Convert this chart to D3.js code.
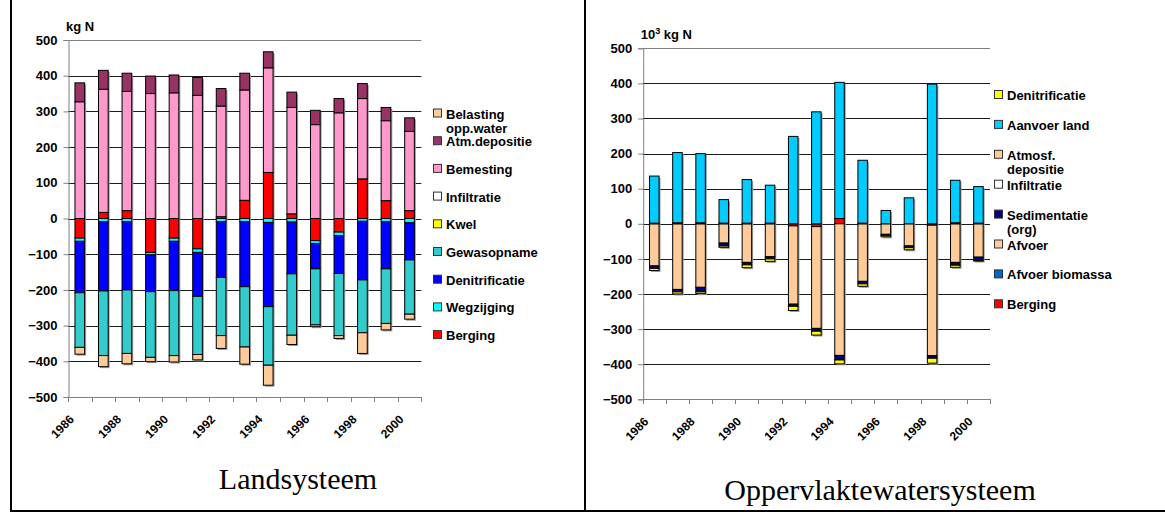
<!DOCTYPE html>
<html>
<head>
<meta charset="utf-8">
<script src="https://cdn.jsdelivr.net/npm/d3@7"></script>
<style>
  html, body { margin: 0; padding: 0; background: #fff; }
  svg { display: block; }
  text { font-family: "Liberation Sans", Arial, sans-serif; }
  text.caption { font-family: "Liberation Serif", "Times New Roman", serif; }
</style>
</head>
<body>
<svg id="fig" width="1165" height="512"></svg>
<script>
// ---- Data -------------------------------------------------------------
const years = ["1986","1987","1988","1989","1990","1991","1992","1993","1994","1995","1996","1997","1998","1999","2000"];
const yTicks = [500, 400, 300, 200, 100, 0, -100, -200, -300, -400, -500];
const yearTickLabels = ["1986","1988","1990","1992","1994","1996","1998","2000"];

// Landsysteem (kg N)
const bergingLand     = [-55, 17, 22, -95, -55, -85, 5, 51, 129, 13, -62, -38, 111, 50, 22];
const wegzijging      = [-9, -9, -9, -7, -9, -10, -9, -9, -11, -10, -8, -10, -8, -9, -12];
const denitLand       = [-144, -194, -191, -103, -138, -123, -156, -182, -236, -145, -71, -106, -164, -132, -104];
const gewasopname     = [-153, -181, -178, -184, -182, -163, -163, -169, -164, -172, -157, -174, -148, -153, -152];
const kwel            = [0, 0, 0, 0, 0, 0, 0, 0, 0, 0, 0, 0, 0, 0, 0];
const infiltratieLand = [0, 0, 0, 0, 0, 0, 0, 0, 0, 0, 0, 0, 0, 0, 0];
const bemesting       = [327, 345, 334, 350, 352, 345, 310, 309, 293, 298, 263, 296, 225, 224, 222];
const atmDepositie    = [53, 53, 51, 49, 50, 50, 49, 47, 45, 43, 40, 40, 42, 37, 38];
const belastingOpp    = [-19, -31, -29, -12, -18, -15, -36, -48, -56, -26, -5, -8, -58, -18, -14];

// Oppervlaktewatersysteem (10^3 kg N)
const bergingWater     = [0, 0, 0, 0, 0, 0, -6, -8, 15, 0, 0, 0, -4, 0, 0];
const afvoerBiomassa   = [0, 0, 0, 0, 0, 0, 0, 0, 0, 0, 0, 0, 0, 0, 0];
const afvoer           = [-120, -187, -181, -55, -110, -94, -223, -290, -375, -164, -30, -63, -372, -110, -95];
const sedimentatie     = [-7, -7, -13, -8, -7, -6, -6, -8, -13, -7, -3, -5, -7, -8, -10];
const infiltratieWater = [0, 0, 0, 0, 0, 0, 0, 0, 0, 0, 0, 0, 0, 0, 0];
const atmosfDepositie  = [2, 3, 3, 2, 2, 2, 0, 0, 0, 2, 0, 0, 0, 3, 2];
const aanvoerLand      = [134, 200, 197, 67, 124, 108, 249, 319, 388, 179, 38, 74, 398, 121, 104];
const denitWater       = [-6, -6, -5, -4, -8, -7, -12, -11, -11, -7, -4, -6, -14, -6, -1];

// Series in stacking order (first series sits next to zero)
const landSeries = [
  { key: "Berging",             values: bergingLand,     color: "#FF0000" },
  { key: "Wegzijging",          values: wegzijging,      color: "#00FFFF" },
  { key: "Denitrificatie",      values: denitLand,       color: "#0000FF" },
  { key: "Gewasopname",         values: gewasopname,     color: "#33CCCC" },
  { key: "Kwel",                values: kwel,            color: "#FFFF00" },
  { key: "Infiltratie",         values: infiltratieLand, color: "#FFFFFF" },
  { key: "Bemesting",           values: bemesting,       color: "#FF99CC" },
  { key: "Atm.depositie",       values: atmDepositie,    color: "#993366" },
  { key: "Belasting opp.water", values: belastingOpp,    color: "#FFCC99", label: ["Belasting", "opp.water"] }
];
const waterSeries = [
  { key: "Berging",             values: bergingWater,     color: "#FF0000" },
  { key: "Afvoer biomassa",     values: afvoerBiomassa,   color: "#0066CC" },
  { key: "Afvoer",              values: afvoer,           color: "#FFCC99" },
  { key: "Sedimentatie (org)",  values: sedimentatie,     color: "#000080", label: ["Sedimentatie", "(org)"] },
  { key: "Infiltratie",         values: infiltratieWater, color: "#FFFFFF" },
  { key: "Atmosf. depositie",   values: atmosfDepositie,  color: "#FFCC99", label: ["Atmosf.", "depositie"] },
  { key: "Aanvoer land",        values: aanvoerLand,      color: "#00CCFF" },
  { key: "Denitrificatie",      values: denitWater,       color: "#FFFF00" }
];

const svg = d3.select("#fig");

// ---- Frame lines -------------------------------------------------------
const frame = svg.append("g").attr("stroke", "#000").attr("shape-rendering", "crispEdges");
frame.append("line").attr("x1", 10.5).attr("x2", 10.5).attr("y1", 0).attr("y2", 511).attr("stroke-width", 2);
frame.append("line").attr("x1", 584.5).attr("x2", 584.5).attr("y1", 0).attr("y2", 511).attr("stroke-width", 2);
frame.append("line").attr("x1", 10).attr("x2", 1165).attr("y1", 510.5).attr("y2", 510.5).attr("stroke-width", 2);

// ---- Chart drawing -----------------------------------------------------
function drawChart(opts) {
  const { series, x0, x1, yTop, yBottom, unit, legendX, legendY0, legendStep, caption, captionX, captionY } = opts;
  const g = svg.append("g");

  const x = d3.scaleBand().domain(years).range([x0, x1]).padding(0);
  const y = d3.scaleLinear().domain([-500, 500]).range([yBottom, yTop]);

  const rows = years.map((yr, i) => {
    const r = { year: yr };
    series.forEach(s => { r[s.key] = s.values[i]; });
    return r;
  });
  const stacked = d3.stack()
    .keys(series.map(s => s.key))
    .offset(d3.stackOffsetDiverging)(rows);

  // gridlines
  g.append("g").selectAll("line").data(yTicks.filter(t => t > -500)).join("line")
    .attr("x1", x0).attr("x2", x1)
    .attr("y1", d => Math.round(y(d)) + 0.5).attr("y2", d => Math.round(y(d)) + 0.5)
    .attr("stroke", d => d === 500 ? "#808080" : "#1a1a1a")
    .attr("stroke-width", 1);

  // y axis
  const yAxis = d3.axisLeft(y).tickValues(yTicks).tickSize(5).tickPadding(6).tickFormat(d3.format("d"));
  const ya = g.append("g").attr("transform", `translate(${x0 + 0.5},0)`).call(yAxis);
  ya.attr("font-family", null);
  ya.select(".domain").attr("stroke", "#808080");
  ya.selectAll(".tick line").attr("stroke", "#808080");
  ya.selectAll(".tick text")
    .attr("font-size", 13).attr("font-weight", "bold").attr("fill", "#000");

  // x axis at the bottom with ticks between categories
  const xa = g.append("g");
  xa.append("line").attr("x1", x0).attr("x2", x1)
    .attr("y1", Math.round(yBottom) + 0.5).attr("y2", Math.round(yBottom) + 0.5)
    .attr("stroke", "#808080");
  const edges = years.map(d => x(d)).concat([x1]);
  xa.selectAll("line.tk").data(edges).join("line").attr("class", "tk")
    .attr("x1", d => Math.round(d) + 0.5).attr("x2", d => Math.round(d) + 0.5)
    .attr("y1", Math.round(yBottom)).attr("y2", Math.round(yBottom) + 5)
    .attr("stroke", "#808080");
  xa.selectAll("text").data(yearTickLabels).join("text")
    .attr("transform", d => `translate(${x(d) + x.bandwidth() / 2 - 5},${yBottom + 23}) rotate(-45)`)
    .attr("text-anchor", "end")
    .attr("font-size", 12).attr("font-weight", "bold").attr("fill", "#000")
    .text(d => d);

  // bars
  const bw = x.bandwidth() * 0.41;
  const bx = d => x(d.data.year) + (x.bandwidth() - bw) / 2;

  // soft shadow behind each column
  const extent = years.map((yr, i) => {
    let lo = 0, hi = 0;
    stacked.forEach(s => { lo = Math.min(lo, s[i][0]); hi = Math.max(hi, s[i][1]); });
    return { year: yr, lo, hi };
  });
  g.append("g").selectAll("rect").data(extent).join("rect")
    .attr("x", d => x(d.year) + (x.bandwidth() - bw) / 2 + 1.5)
    .attr("y", d => y(d.hi) + 1.5)
    .attr("width", bw)
    .attr("height", d => y(d.lo) - y(d.hi))
    .attr("fill", "#9a9a9a");

  g.append("g").selectAll("g").data(stacked).join("g")
    .attr("fill", (d, i) => series[i].color)
    .selectAll("rect")
    .data(d => d.filter(p => p[1] !== p[0]))
    .join("rect")
    .attr("x", bx)
    .attr("y", d => y(d[1]))
    .attr("width", bw)
    .attr("height", d => y(d[0]) - y(d[1]))
    .attr("stroke", "#000")
    .attr("stroke-width", 1);

  // unit label
  const ut = g.append("text").attr("x", x0 - 2).attr("y", yTop - 9)
    .attr("font-size", 13).attr("font-weight", "bold").attr("fill", "#000");
  if (unit === "kg N") {
    ut.text("kg N");
  } else {
    ut.append("tspan").text("10");
    ut.append("tspan").attr("dy", -5).attr("font-size", 9).text("3");
    ut.append("tspan").attr("dy", 5).text(" kg N");
  }

  // legend, listed in reverse stacking order
  const legendItems = series.slice().reverse();
  const lg = g.append("g");
  legendItems.forEach((s, i) => {
    const cy = legendY0 + i * legendStep;
    lg.append("rect").attr("x", legendX + 0.5).attr("y", cy - 4.5).attr("width", 8).attr("height", 8)
      .attr("fill", s.color).attr("stroke", "#333").attr("stroke-width", 1);
    const lines = s.label || [s.key];
    lines.forEach((ln, k) => {
      lg.append("text").attr("x", legendX + 13).attr("y", cy + 5 + k * 14.5)
        .attr("font-size", 13).attr("font-weight", "bold").attr("fill", "#000")
        .text(ln);
    });
  });

  // caption under the chart
  g.append("text").attr("class", "caption").attr("x", captionX).attr("y", captionY)
    .attr("text-anchor", "middle")
    .attr("font-size", 30).attr("fill", "#000")
    .text(caption);
}

drawChart({
  series: landSeries, x0: 68, x1: 421.3, yTop: 40, yBottom: 397, unit: "kg N",
  legendX: 433, legendY0: 113.5, legendStep: 27.7,
  caption: "Landsysteem", captionX: 298, captionY: 489
});
drawChart({
  series: waterSeries, x0: 642.7, x1: 990, yTop: 48.3, yBottom: 399.3, unit: "10^3 kg N",
  legendX: 994, legendY0: 95, legendStep: 29.9,
  caption: "Oppervlaktewatersysteem", captionX: 880, captionY: 500
});
</script>
</body>
</html>
